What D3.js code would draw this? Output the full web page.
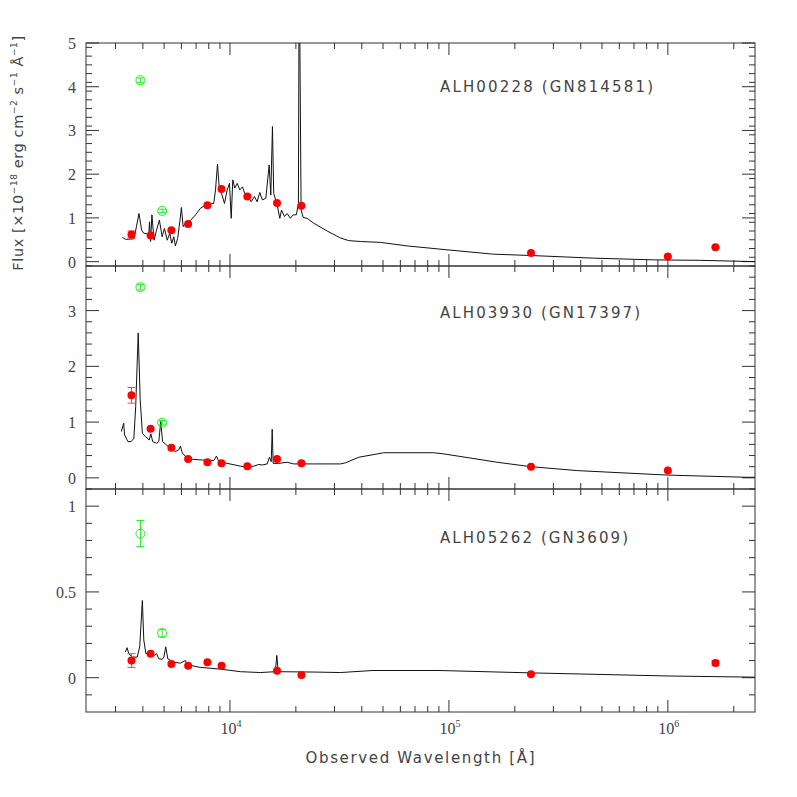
<!DOCTYPE html>
<html>
<head>
<meta charset="utf-8">
<script src="https://cdn.jsdelivr.net/npm/d3@7"></script>
<style>
	body { margin: 0; background: #fff; }
	text { fill: #444; }
	.tick-label { font-family: "Liberation Serif", "DejaVu Serif", serif; font-size: 16px; }
	.title { font-family: "DejaVu Sans", sans-serif; font-size: 15px; }
</style>
</head>
<body>
<svg id="chart" width="797" height="797"></svg>
<script>
// photometry wavelengths (Angstrom)
var photWave = [3550, 4340, 5400, 6440, 7890, 9150, 12000, 16400, 21200, 237000, 1000000, 1650000];
var greenWave = [3900, 4900];

// panel names
var names = ["ALH00228 (GN814581)", "ALH03930 (GN17397)", "ALH05262 (GN3609)"];

// red photometry per panel (null = no point)
var red1 = [0.62, 0.60, 0.72, 0.86, 1.29, 1.66, 1.49, 1.34, 1.28, 0.20, 0.12, 0.33];
var red2 = [1.48, 0.88, 0.54, 0.34, 0.28, 0.26, 0.21, 0.34, 0.26, 0.20, 0.13, null];
var red3 = [0.10, 0.14, 0.08, 0.07, 0.09, 0.07, null, 0.04, 0.015, 0.02, null, 0.085];
var redErr1 = [0.08, 0, 0, 0, 0, 0, 0, 0, 0, 0, 0, 0.02];
var redErr2 = [0.14, 0, 0, 0, 0, 0, 0, 0, 0, 0, 0, 0];
var redErr3 = [0.04, 0, 0, 0, 0, 0, 0, 0, 0, 0, 0, 0.015];

// green (open) points per panel
var green1 = [4.15, 1.16];
var green2 = [3.42, 0.99];
var green3 = [0.84, 0.26];
var greenErr1 = [0.05, 0.04];
var greenErr2 = [0.05, 0.04];
var greenErr3 = [0.076, 0.022];

// model spectra [wavelength, flux]
var spec1 = [[3220,0.56],[3330,0.51],[3640,0.52],[3740,0.80],[3840,1.10],[3950,0.72],[4040,0.65],[4260,0.63],
	[4290,0.91],[4340,0.46],[4400,1.07],[4500,0.49],[4620,0.72],[4760,0.95],[4900,0.57],[5020,0.76],[5170,0.49],
	[5310,0.65],[5420,0.42],[5540,0.57],[5630,0.36],[5770,0.53],[5900,0.91],[6000,1.24],[6110,0.80],[6260,0.88],
	[6600,0.94],[6960,1.07],[7330,1.22],[7730,1.30],[8150,1.32],[8430,1.33],[8590,1.64],[8770,2.23],[8930,1.71],
	[9150,1.56],[9440,1.33],[9710,1.64],[9950,1.79],[10130,0.99],[10300,1.87],[10520,1.68],[10790,1.79],
	[11090,1.64],[11400,1.71],[11680,1.56],[12060,1.49],[12500,1.37],[12940,1.49],[13300,1.37],[13680,1.58],
	[14070,1.41],[14580,1.45],[15100,2.21],[15360,1.52],[15630,3.09],[15840,1.56],[16420,1.30],[16890,0.99],
	[17190,1.18],[17740,1.03],[18240,1.10],[18880,0.99],[19440,1.07],[20100,1.07],[20540,1.33],[20710,7.0],
	[21130,1.18],[21600,1.01],[22500,0.99],[24100,0.88],[27800,0.70],[32000,0.54],[34900,0.48],[39500,0.46],
	[48700,0.44],[64300,0.36],[98000,0.27],[160000,0.17],[237000,0.14],[456000,0.08],[867000,0.04],
	[1400000,0.03],[2500000,0.0]];
var spec2 = [[3190,0.83],[3270,0.98],[3300,0.77],[3420,0.65],[3540,0.65],[3640,0.71],[3710,1.28],[3810,2.60],
	[3890,1.40],[3980,0.80],[4110,0.74],[4280,0.68],[4350,0.79],[4440,0.65],[4620,0.62],[4730,0.65],[4830,1.01],
	[4920,0.65],[5130,0.59],[5350,0.53],[5630,0.47],[5830,0.50],[5940,0.57],[6050,0.45],[6370,0.35],[6840,0.33],
	[7460,0.32],[8430,0.31],[8680,0.39],[8890,0.29],[9710,0.26],[11170,0.21],[11980,0.19],[12840,0.21],
	[13540,0.24],[14030,0.23],[14790,0.25],[15150,0.37],[15430,0.29],[15590,0.87],[15750,0.26],[16710,0.26],
	[18240,0.28],[19550,0.25],[24100,0.25],[32000,0.25],[33700,0.27],[38800,0.37],[50400,0.45],[85300,0.45],
	[94700,0.43],[166000,0.28],[237000,0.20],[386000,0.13],[990000,0.05],[2300000,0.01],[2500000,0.01]];
var spec3 = [[3330,0.15],[3390,0.175],[3450,0.14],[3580,0.12],[3770,0.12],[3870,0.18],[3980,0.45],[4040,0.22],
	[4130,0.14],[4340,0.14],[4520,0.13],[4620,0.14],[4730,0.11],[4900,0.107],[4990,0.12],[5090,0.18],[5200,0.11],
	[5540,0.09],[5940,0.085],[6260,0.10],[6370,0.075],[7330,0.06],[9050,0.05],[11170,0.035],[13780,0.03],
	[16100,0.035],[16370,0.13],[16600,0.035],[24100,0.033],[32000,0.03],[45000,0.042],[90000,0.042],
	[237000,0.028],[1000000,0.01],[2500000,0.003]];

var yDomains = [[-0.1, 5], [-0.2, 3.8], [-0.2, 1.1]];
var yMajor = [[0, 1, 2, 3, 4, 5], [0, 1, 2, 3], [0, 0.5, 1]];
var yMinorStep = [0.2, 0.2, 0.1];

var panels = [
	{spec: spec1, red: red1, redErr: redErr1, green: green1, greenErr: greenErr1},
	{spec: spec2, red: red2, redErr: redErr2, green: green2, greenErr: greenErr2},
	{spec: spec3, red: red3, redErr: redErr3, green: green3, greenErr: greenErr3}
];

var margin = {top: 43, left: 86},
	width = 669,
	panelHeight = 223;

var svg = d3.select("#chart");
var x = d3.scaleLog().domain([2200, 2.5e6]).range([0, width]);

var xMajor = [1e4, 1e5, 1e6];
var xMinor = [];
[1e3, 1e4, 1e5, 1e6].forEach(function(dec) {
	for (var k = 2; k <= 9; k++) {
		var v = dec * k;
		if (v > 2200 && v < 2.5e6) xMinor.push(v);
	}
});

var labelY = [92, 318, 543];
var axisColor = "#333";

panels.forEach(function(p, i) {
	var top = margin.top + i * panelHeight;
	var y = d3.scaleLinear().domain(yDomains[i]).range([panelHeight, 0]);

	var g = svg.append("g")
		.attr("transform", "translate(" + margin.left + "," + top + ")");

	g.append("clipPath").attr("id", "clip" + i)
		.append("rect").attr("width", width).attr("height", panelHeight);

	// y ticks, left and right
	var minor = d3.range(yDomains[i][0], yDomains[i][1] + 1e-9, yMinorStep[i])
		.map(function(v) { return Math.round(v * 100) / 100; })
		.filter(function(v) { return yMajor[i].indexOf(v) < 0 && v > yDomains[i][0]; });
	var yt = yMajor[i].map(function(v) { return {v: v, len: 13}; })
		.concat(minor.map(function(v) { return {v: v, len: 6}; }));
	g.selectAll(".ytl").data(yt).enter().append("line")
		.attr("x1", 0).attr("x2", function(d) { return d.len; })
		.attr("y1", function(d) { return y(d.v); }).attr("y2", function(d) { return y(d.v); })
		.attr("stroke", axisColor);
	g.selectAll(".ytr").data(yt).enter().append("line")
		.attr("x1", width).attr("x2", function(d) { return width - d.len; })
		.attr("y1", function(d) { return y(d.v); }).attr("y2", function(d) { return y(d.v); })
		.attr("stroke", axisColor);

	g.selectAll(".ylab").data(yMajor[i]).enter().append("text")
		.attr("class", "tick-label")
		.attr("x", -10).attr("y", function(d) { return y(d) + 6; })
		.attr("text-anchor", "end")
		.text(function(d) { return d; });

	// x ticks, top and bottom
	var xt = xMajor.map(function(v) { return {v: v, len: 12}; })
		.concat(xMinor.map(function(v) { return {v: v, len: 6}; }));
	g.selectAll(".xtt").data(xt).enter().append("line")
		.attr("x1", function(d) { return x(d.v); }).attr("x2", function(d) { return x(d.v); })
		.attr("y1", 0).attr("y2", function(d) { return d.len; })
		.attr("stroke", axisColor);
	g.selectAll(".xtb").data(xt).enter().append("line")
		.attr("x1", function(d) { return x(d.v); }).attr("x2", function(d) { return x(d.v); })
		.attr("y1", panelHeight).attr("y2", function(d) { return panelHeight - d.len; })
		.attr("stroke", axisColor);

	// frame
	g.append("rect")
		.attr("width", width).attr("height", panelHeight)
		.attr("fill", "none").attr("stroke", axisColor);

	var plot = g.append("g").attr("clip-path", "url(#clip" + i + ")");

	// spectrum
	var line = d3.line()
		.x(function(d) { return x(d[0]); })
		.y(function(d) { return y(d[1]); });
	plot.append("path")
		.datum(p.spec)
		.attr("d", line)
		.attr("fill", "none")
		.attr("stroke", "#111")
		.attr("stroke-width", 1);

	// red points
	var reds = photWave.map(function(w, j) { return {w: w, f: p.red[j], e: p.redErr[j]}; })
		.filter(function(d) { return d.f !== null; });
	var errs = reds.filter(function(d) { return d.e > 0; });
	plot.selectAll(".rerr").data(errs).enter().append("path")
		.attr("d", function(d) {
			var cx = x(d.w), y0 = y(d.f - d.e), y1 = y(d.f + d.e);
			return "M" + (cx - 4) + "," + y0 + "H" + (cx + 4) + "M" + cx + "," + y0 + "V" + y1 +
				"M" + (cx - 4) + "," + y1 + "H" + (cx + 4);
		})
		.attr("stroke", "#ff4040").attr("fill", "none");
	plot.selectAll(".dot").data(reds).enter().append("circle")
		.attr("r", 4)
		.attr("cx", function(d) { return x(d.w); })
		.attr("cy", function(d) { return y(d.f); })
		.attr("fill", "#ff0000");

	// green open points
	var greens = greenWave.map(function(w, j) { return {w: w, f: p.green[j], e: p.greenErr[j]}; });
	plot.selectAll(".gerr").data(greens).enter().append("path")
		.attr("d", function(d) {
			var cx = x(d.w), y0 = y(d.f - d.e), y1 = y(d.f + d.e);
			return "M" + (cx - 4) + "," + y0 + "H" + (cx + 4) + "M" + cx + "," + y0 + "V" + y1 +
				"M" + (cx - 4) + "," + y1 + "H" + (cx + 4);
		})
		.attr("stroke", "#22ee22").attr("fill", "none");
	plot.selectAll(".gdot").data(greens).enter().append("circle")
		.attr("r", 4.5)
		.attr("cx", function(d) { return x(d.w); })
		.attr("cy", function(d) { return y(d.f); })
		.attr("fill", "none")
		.attr("stroke", "#22ee22");

	// object name
	svg.append("text")
		.attr("class", "title")
		.attr("x", 440).attr("y", labelY[i])
		.attr("textLength", [213, 200, 188][i])
		.attr("lengthAdjust", "spacing")
		.text(names[i]);
});

// x tick labels
var bottom = margin.top + 3 * panelHeight;
xMajor.forEach(function(v, j) {
	var t = svg.append("text")
		.attr("class", "tick-label")
		.attr("x", margin.left + x(v) + 1).attr("y", bottom + 22)
		.attr("text-anchor", "middle");
	t.append("tspan").text("10");
	t.append("tspan").attr("font-size", "10px").attr("dy", -7).text(String(4 + j));
});

// axis titles
svg.append("text")
	.attr("class", "title")
	.attr("x", 420).attr("y", bottom + 51)
	.attr("text-anchor", "middle")
	.attr("textLength", 229)
	.attr("lengthAdjust", "spacing")
	.text("Observed Wavelength [Å]");

var yt = svg.append("text")
	.attr("class", "title")
	.attr("transform", "translate(23,153) rotate(-90)")
	.attr("text-anchor", "middle")
	.style("font-size", "14.5px")
	.style("letter-spacing", "0.6px");
yt.append("tspan").text("Flux [×10");
yt.append("tspan").attr("font-size", "9px").attr("dy", -6).text("−18");
yt.append("tspan").attr("dy", 6).text(" erg cm");
yt.append("tspan").attr("font-size", "9px").attr("dy", -6).text("−2");
yt.append("tspan").attr("dy", 6).text(" s");
yt.append("tspan").attr("font-size", "9px").attr("dy", -6).text("−1");
yt.append("tspan").attr("dy", 6).text(" Å");
yt.append("tspan").attr("font-size", "9px").attr("dy", -6).text("−1");
yt.append("tspan").attr("dy", 6).text("]");
</script>
</body>
</html>
